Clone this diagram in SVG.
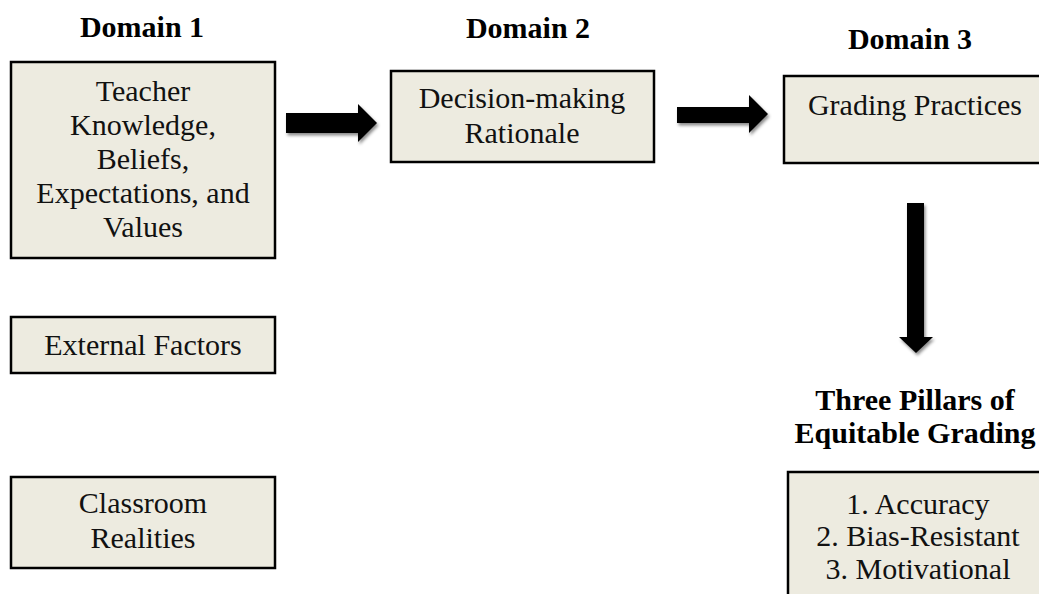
<svg xmlns="http://www.w3.org/2000/svg" width="1039" height="594" viewBox="0 0 1039 594">
  <defs>
    <style>
      .box { fill: #EDEBE0; stroke: #000; stroke-width: 2.5; }
      .t { font-family: "Liberation Serif", "Times New Roman", serif; font-size: 30px; fill: #111; text-anchor: middle; }
      .h { font-family: "Liberation Serif", "Times New Roman", serif; font-size: 30px; font-weight: bold; fill: #000; text-anchor: middle; }
      .arrow { fill: #000; filter: url(#sh); }
    </style>
    <filter id="sh" x="-20%" y="-20%" width="150%" height="150%">
      <feDropShadow dx="1.5" dy="2.5" stdDeviation="1.8" flood-color="#000" flood-opacity="0.45"/>
    </filter>
  </defs>
  <rect width="1039" height="594" fill="#fff"/>

  <text class="h" x="142" y="37">Domain 1</text>
  <text class="h" x="528" y="38">Domain 2</text>
  <text class="h" x="910" y="49">Domain 3</text>

  <g id="teacher">
    <rect class="box" x="11" y="62" width="264" height="196"/>
    <text class="t" x="143" y="101">Teacher</text>
    <text class="t" x="143" y="135">Knowledge,</text>
    <text class="t" x="143" y="169">Beliefs,</text>
    <text class="t" x="143" y="203">Expectations, and</text>
    <text class="t" x="143" y="237">Values</text>
  </g>

  <g id="external">
    <rect class="box" x="11" y="317" width="264" height="56"/>
    <text class="t" x="143" y="355">External Factors</text>
  </g>

  <g id="classroom">
    <rect class="box" x="11" y="477" width="264" height="91"/>
    <text class="t" x="143" y="513">Classroom</text>
    <text class="t" x="143" y="548">Realities</text>
  </g>

  <g id="decision">
    <rect class="box" x="391" y="71" width="263" height="91"/>
    <text class="t" x="522" y="108">Decision-making</text>
    <text class="t" x="522" y="143">Rationale</text>
  </g>

  <g id="grading">
    <rect class="box" x="784" y="76" width="270" height="87"/>
    <text class="t" x="915" y="115">Grading Practices</text>
  </g>

  <g id="pillars-title">
    <text class="h" x="915" y="410">Three Pillars of</text>
    <text class="h" x="915" y="443">Equitable Grading</text>
  </g>

  <g id="pillars">
    <rect class="box" x="788" y="472" width="270" height="140"/>
    <text class="t" x="918" y="514">1. Accuracy</text>
    <text class="t" x="918" y="546">2. Bias-Resistant</text>
    <text class="t" x="918" y="579">3. Motivational</text>
  </g>

  <g id="connectors">
    <polygon class="arrow" points="286,113 358,113 358,104 377,123 358,142 358,133 286,133"/>
    <polygon class="arrow" points="677,107 749,107 749,95 768,114 749,133 749,123 677,123"/>
    <polygon class="arrow" points="907,203 924,203 924,337 933,337 916,353 899,337 907,337"/>
  </g>
</svg>
